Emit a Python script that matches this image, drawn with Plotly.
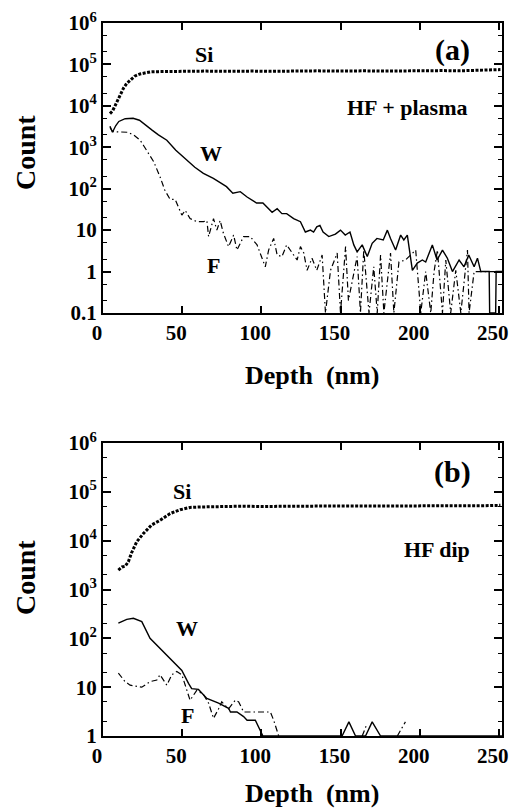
import plotly.graph_objects as go

# ---------------- Panel (a): HF + plasma ----------------
si_a_depth = [4.4, 6, 7.6, 9, 10.8, 13, 15, 17, 20, 23.4, 27, 30, 35, 45, 55, 65, 75, 85, 95, 105, 115,
              125, 135, 145, 155, 165, 175, 185, 195, 205, 215, 225, 235, 245, 251]
si_a_count = [6500, 7500, 10000, 13000, 18000, 27000, 35000, 42000, 52000, 59000, 63000, 66000, 67000,
              68000, 68000, 69000, 68000, 69000, 69000, 68000, 69000, 69000, 70000, 69000, 70000, 70000,
              69000, 70000, 70000, 70000, 71000, 70000, 71000, 72000, 75000]

w_a_depth = [4.4, 6, 8, 10, 14, 19, 23, 27, 31, 35, 40.3, 46, 53, 58, 63.4, 69.7, 74, 78, 82, 86.7, 91,
             97, 101, 103.6, 106.8, 110, 113, 116, 120.4, 124.7, 127.8, 131, 133, 135, 137, 139, 142.6,
             146.8, 150, 153, 156, 158.4, 160.5, 163.7, 166.9, 170, 173, 177, 179.6, 181.6, 184.8, 188,
             190, 192.2, 195.4, 198.5, 201.7, 203.8, 208, 211, 214.4, 217.5, 220.7, 224.9, 228, 231,
             234.4, 236.5, 238.6, 243.9, 244.2, 248, 248.3, 252]
w_a_count = [3200, 2300, 3300, 4200, 4900, 5000, 4500, 3500, 2600, 2000, 1480, 850, 490, 330, 235, 178,
             140, 112, 78, 85, 63, 45, 45, 36, 27, 33, 25, 25, 19, 16, 9, 10, 9, 12, 13, 9, 7, 8, 10,
             7.6, 9, 4.4, 3, 4.4, 2.3, 4.8, 6.3, 5.8, 10, 6.3, 3.3, 7.6, 5.8, 7.6, 1.07, 1.6, 1.9,
             1.7, 4.4, 1.9, 3.3, 2.1, 1.0, 1.9, 1.3, 2.5, 1.3, 2.1, 1.0, 1.0, 0.1, 0.1, 1.0, 1.0]

f_a_depth = [4.4, 6, 10, 13, 16, 20, 23.4, 25.5, 29.7, 32, 36, 39, 42.4, 45.6, 49.8, 51.9, 55, 59.3,
             63.5, 65.6, 66.7, 69.8, 71.9, 74, 76, 79.3, 82.5, 84.6, 88.8, 93, 97.3, 99.4, 102.5,
             104.6, 107.8, 110, 113, 116, 119.4, 122.6, 124.7, 126.8, 128.9, 132, 135, 138.4, 140.5,
             143.7, 147.9, 150, 153.2, 155, 160.5, 162.6, 164.7, 168, 171, 173.2, 175.3, 177.4, 181.6,
             183.7, 186.9, 191, 197.5, 200.7, 203.8, 207, 209.1, 211.2, 214.4, 216.5, 219.6, 222.8,
             226, 230.2, 231.2, 234.4, 238.6, 247, 251]
f_a_count = [3000, 2400, 2350, 2350, 2300, 1900, 1480, 1120, 590, 450, 195, 93, 55, 55, 23, 30, 19, 16,
             16, 17, 7, 19, 10, 17, 8.5, 4, 7.6, 3.3, 7, 7, 4.4, 2.8, 1.3, 3.3, 6.3, 2.5, 2.3, 4.4, 2.8,
             1.9, 4, 2.8, 1.07, 2.1, 1.07, 2.5, 0.1, 1.07, 2.8, 0.1, 4, 0.2, 2.3, 0.1, 3.3, 0.1, 1.3,
             0.1, 2.5, 0.1, 2.8, 0.1, 1.7, 1.9, 3.3, 0.1, 1.0, 0.1, 1.0, 3.3, 0.1, 1.9, 0.1, 1.07, 0.1,
             3.3, 0.1, 1.0, 1.0, 1.0, 1.0]

# ---------------- Panel (b): HF dip ----------------
si_b_depth = [9.7, 12, 14, 16, 18, 21.3, 25.5, 30.7, 35.9, 42.4, 48.7, 55, 61, 70, 80, 90, 100, 110,
              120, 130, 140, 150, 160, 170, 180, 190, 200, 210, 220, 230, 240, 251]
si_b_count = [2500, 2900, 3000, 3700, 5600, 9500, 14000, 21000, 26000, 36000, 43000, 48000, 49000,
              50000, 50000, 51000, 50000, 51000, 51000, 51000, 51000, 51000, 52000, 51000, 52000, 52000,
              51000, 52000, 52000, 52000, 52000, 53000]

w_b_depth = [9.7, 15, 19.2, 24.5, 29.7, 36, 42.4, 46.6, 49.8, 54, 56, 60.3, 65.6, 73, 79.3, 80.5,
             84.6, 88.8, 91, 96.2, 100.4, 101, 151, 155.3, 159.5, 165.8, 170, 175.3, 252]
w_b_count = [205, 245, 257, 220, 100, 62, 39, 28, 22, 12, 9.3, 9, 5.9, 4.7, 3.7, 3.1, 3.1, 2.5, 2.1,
             2.1, 1.1, 1.0, 1.0, 1.95, 1.0, 1.0, 1.95, 1.0, 1.0]

f_b_depth = [9.7, 13.9, 17.1, 24.5, 29.7, 34, 36, 40.3, 43.5, 46.6, 49.8, 53, 55, 59.3, 63.5, 66.7,
             69.8, 73, 75, 79.3, 83.5, 85.7, 88.8, 95, 105.7, 107.8, 110, 111]
f_b_count = [19.5, 13, 11, 10, 13, 14, 18, 11, 18, 21, 18, 8, 5.4, 8.7, 7, 4.7, 2.3, 3.6, 5, 3.6, 5.4,
             5, 3.1, 3.1, 3.1, 2.1, 1.3, 1.0]
f_b2_depth = [163.7, 166.5]
f_b2_count = [1.0, 1.7]
f_b3_depth = [185.9, 191]
f_b3_count = [1.0, 1.95]

# ---------------- tick labels ----------------
x_ticks = [0, 50, 100, 150, 200, 250]
y_ticks_a = [0.1, 1, 10, 100, 1e3, 1e4, 1e5, 1e6]
y_text_a = ["0.1", "1", "10", "10<sup>2</sup>", "10<sup>3</sup>", "10<sup>4</sup>",
            "10<sup>5</sup>", "10<sup>6</sup>"]
y_ticks_b = [1, 10, 100, 1e3, 1e4, 1e5, 1e6]
y_text_b = ["1", "10", "10<sup>2</sup>", "10<sup>3</sup>", "10<sup>4</sup>",
            "10<sup>5</sup>", "10<sup>6</sup>"]

FONT = "Liberation Serif"
BLACK = "#000000"
si_line = dict(color=BLACK, width=3, dash="3px,1.5px")
w_line = dict(color=BLACK, width=1.4)
f_line = dict(color=BLACK, width=1.2, dash="6px,3px,1.5px,3px")

fig = go.Figure()
fig.add_trace(go.Scatter(x=si_a_depth, y=si_a_count, mode="lines", line=si_line, xaxis="x", yaxis="y"))
fig.add_trace(go.Scatter(x=w_a_depth, y=w_a_count, mode="lines", line=w_line, xaxis="x", yaxis="y"))
fig.add_trace(go.Scatter(x=f_a_depth, y=f_a_count, mode="lines", line=f_line, xaxis="x", yaxis="y"))

fig.add_trace(go.Scatter(x=si_b_depth, y=si_b_count, mode="lines", line=si_line, xaxis="x2", yaxis="y2"))
fig.add_trace(go.Scatter(x=w_b_depth, y=w_b_count, mode="lines", line=w_line, xaxis="x2", yaxis="y2"))
fig.add_trace(go.Scatter(x=f_b_depth, y=f_b_count, mode="lines", line=f_line, xaxis="x2", yaxis="y2"))
fig.add_trace(go.Scatter(x=f_b2_depth, y=f_b2_count, mode="lines", line=f_line, xaxis="x2", yaxis="y2"))
fig.add_trace(go.Scatter(x=f_b3_depth, y=f_b3_count, mode="lines", line=f_line, xaxis="x2", yaxis="y2"))

tickfont = dict(family=FONT, size=21, color=BLACK, weight="bold")

xcommon = dict(range=[0, 252], tickvals=x_ticks, ticks="inside", ticklen=7, tickwidth=1.5,
               tickcolor=BLACK, showline=True, linecolor=BLACK, linewidth=2, mirror="ticks",
               showgrid=False, zeroline=False, tickfont=tickfont, automargin=False,
               ticklabelshift=-6)
ycommon = dict(type="log", ticks="inside", ticklen=8, tickwidth=1.5, tickcolor=BLACK,
               showline=True, linecolor=BLACK, linewidth=2, mirror="allticks", showgrid=False,
               zeroline=False, tickfont=tickfont, automargin=False,
               minor=dict(ticks="inside", ticklen=4, tickwidth=1, tickcolor=BLACK, showgrid=False))

fig.update_layout(
    width=510, height=812,
    margin=dict(l=103, r=8, t=23, b=76),
    paper_bgcolor="white", plot_bgcolor="white",
    showlegend=False,
    hovermode=False,
    font=dict(family=FONT, color=BLACK),
    xaxis=dict(domain=[0, 1], anchor="y", **xcommon),
    yaxis=dict(domain=[0.5933, 1], anchor="x", range=[-1, 6], tickvals=y_ticks_a, ticktext=y_text_a, **ycommon),
    xaxis2=dict(domain=[0, 1], anchor="y2", **xcommon),
    yaxis2=dict(domain=[0, 0.4109], anchor="x2", range=[0, 6], tickvals=y_ticks_b, ticktext=y_text_b, **ycommon),
)

def label(text, x, y, xref, yref, size=22):
    fig.add_annotation(text=text, x=x, y=y, xref=xref, yref=yref, showarrow=False,
                       font=dict(family=FONT, size=size, color=BLACK, weight="bold"),
                       xanchor="center", yanchor="middle")

label("Si", 64, 5.23, "x", "y")
label("(a)", 220.5, 5.35, "x", "y", size=30)
label("HF + plasma", 192, 3.95, "x", "y")
label("W", 68, 2.86, "x", "y")
label("F", 69.5, 0.155, "x", "y")

label("Si", 50.2, 5.0, "x2", "y2")
label("(b)", 220.8, 5.41, "x2", "y2", size=30)
label("HF dip", 210.8, 3.81, "x2", "y2")
label("W", 52.8, 2.21, "x2", "y2")
label("F", 53.4, 0.41, "x2", "y2")

# axis titles
for ypos in (0.506, -0.080):
    fig.add_annotation(text="Depth  (nm)", x=0.524, y=ypos, xref="paper", yref="paper", showarrow=False,
                       font=dict(family=FONT, size=26, color=BLACK, weight="bold"),
                       xanchor="center", yanchor="middle")
for ypos in (0.819, 0.223):
    fig.add_annotation(text="Count", x=-0.1955, y=ypos, xref="paper", yref="paper", showarrow=False,
                       textangle=-90,
                       font=dict(family=FONT, size=28, color=BLACK, weight="bold"),
                       xanchor="center", yanchor="middle")

fig.write_html("out.html", config={"displayModeBar": False},
               post_script="document.body.style.margin='0';document.body.style.overflow='hidden';")
